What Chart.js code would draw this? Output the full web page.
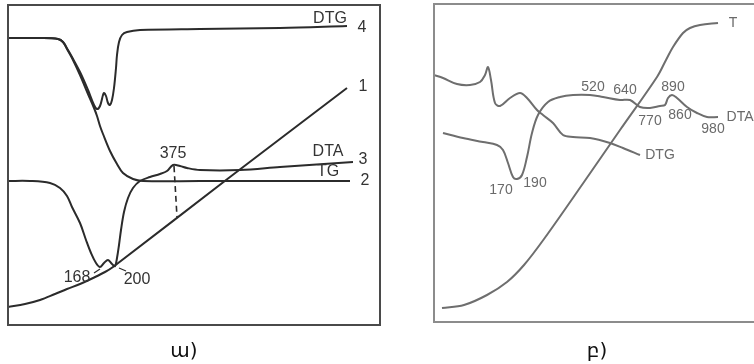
<!DOCTYPE html>
<html>
<head>
<meta charset="utf-8">
<script src="https://cdn.jsdelivr.net/npm/chart.js@4.4.1/dist/chart.umd.min.js"></script>
<style>
  html, body { margin: 0; padding: 0; background: #fff; width: 754px; height: 364px; overflow: hidden; }
  .panel { position: absolute; top: 0; }
  .caption { position: absolute; top: 339px; width: 60px; text-align: center; line-height: 22px;
             font-family: "DejaVu Sans", sans-serif; font-size: 20px; color: #111; }
</style>
</head>
<body>
<div class="panel" style="left:0px"><canvas id="chartA" width="390" height="340"></canvas></div>
<div class="panel" style="left:390px"><canvas id="chartB" width="370" height="340"></canvas></div>
<div class="caption" style="left:154px">ա)</div>
<div class="caption" style="left:567px">բ)</div>
<script>
// ---- panel ա) : relative units (x from left of frame, y up from bottom)
const dtgA = [[0,287],[32,287],[50,286],[55,283],[60,275],[64,268],[72,253],[80,235],[86,220],[89,216],
  [92,219],[95,230],[96,232],[98,229],[100,222],[102,220],[104,225],[106,237],[108,257],[109,270],
  [111,283],[114,290],[119,293],[132,295],[192,296],[272,297],[339,299]];
const tgA = [[0,287],[32,287],[50,286],[55,283],[59,276],[64,267],[72,250],[80,231],[86,217],[89,209],
  [92,199],[95,191],[102,174],[109,161],[115,152],[125,146],[135,144],[192,144],[342,144]];
const dtaA = [[0,144],[22,144],[42,142],[52,137],[59,129],[64,118],[72,102],[78,85],[83,72],[88,62],
  [92,58],[96,62],[100,65],[104,61],[107,59],[109,67],[111,80],[113,95],[116,113],[120,127],[125,137],
  [132,144],[142,148],[152,151],[159,154],[165,160],[172,159],[179,157],[192,155],[232,155],[272,158],[345,163]];
const tempA = [[0,18],[17,21],[32,25],[47,31],[59,36],[72,41],[85,47],[97,53],[105,58],[222,148],[339,237]];
const peak375 = [[166,159],[169,108]];
const tick168 = [[86,52],[92,56]];
const tick200 = [[111,57],[118,54]];
const labelsA = [
  ['DTG', 322, 306], ['4', 354, 297], ['1', 355, 238], ['375', 165, 171], ['DTA', 320, 173],
  ['3', 355, 165], ['TG', 320, 153], ['2', 357, 144], ['168', 69, 47], ['200', 129, 45]
];

// ---- panel բ)
const dtgB = [[0,247],[9,244],[23,238],[36,237],[46,240],[51,247],[54,255],[57,242],[61,219],[66,216],
  [76,224],[86,229],[93,224],[103,212],[109,207],[119,199],[129,187],[139,185],[156,184],[176,179],
  [189,174],[206,167]];
const dtaB = [[9,189],[29,184],[49,180],[63,177],[69,172],[74,159],[79,145],[83,143],[88,147],[93,165],
  [98,189],[104,207],[114,220],[126,225],[139,227],[156,227],[169,225],[186,222],[196,222],[206,215],
  [216,214],[226,216],[231,217],[234,224],[238,227],[243,224],[253,215],[263,209],[273,205],[284,205]];
const tempB = [[8,14],[30,17],[53,27],[73,40],[90,57],[110,83],[150,140],[186,192],[223,245],[232,262],
  [239,275],[249,289],[256,294],[266,297],[284,299]];
const labelsB = [
  ['T', 299, 299], ['DTA', 306, 205], ['DTG', 226, 167], ['520', 159, 235], ['640', 191, 232],
  ['890', 239, 235], ['770', 216, 201], ['860', 246, 207], ['980', 279, 193], ['170', 67, 132], ['190', 101, 139]
];

const toPts = arr => arr.map(p => ({ x: p[0], y: p[1] }));

// frame around the plot area + text marks
const framePlugin = {
  id: 'frame',
  afterDatasetsDraw(chart, args, opts) {
    const a = chart.chartArea, ctx = chart.ctx;
    ctx.save();
    ctx.strokeStyle = opts.color;
    ctx.lineWidth = opts.width;
    ctx.strokeRect(a.left, a.top, a.right - a.left, a.bottom - a.top);
    ctx.restore();
  }
};
const labelPlugin = {
  id: 'curveLabels',
  afterDraw(chart, args, opts) {
    const ctx = chart.ctx, xs = chart.scales.x, ys = chart.scales.y;
    ctx.save();
    ctx.font = opts.font;
    ctx.fillStyle = opts.color;
    ctx.textAlign = 'center';
    ctx.textBaseline = 'middle';
    opts.items.forEach(l => ctx.fillText(l[0], xs.getPixelForValue(l[1]), ys.getPixelForValue(l[2])));
    ctx.restore();
  }
};

function line(data, color, width, dash) {
  return {
    data: toPts(data), showLine: true, pointRadius: 0, borderColor: color, borderWidth: width,
    borderDash: dash || [], tension: 0.35, fill: false
  };
}

function makePanel(id, datasets, xMax, yMax, padding, frame, labels) {
  return new Chart(document.getElementById(id), {
    type: 'scatter',
    data: { datasets: datasets },
    options: {
      responsive: false,
      animation: false,
      layout: { padding: padding },
      scales: {
        x: { type: 'linear', min: 0, max: xMax, display: false },
        y: { type: 'linear', min: 0, max: yMax, display: false }
      },
      plugins: {
        legend: { display: false },
        tooltip: { enabled: false },
        frame: frame,
        curveLabels: labels
      }
    },
    plugins: [framePlugin, labelPlugin]
  });
}

const inkA = '#2b2b2b';
makePanel('chartA', [
  line(dtgA, inkA, 2), line(tgA, inkA, 2), line(dtaA, inkA, 2), line(tempA, inkA, 2),
  line(peak375, inkA, 1.6, [6, 4]), line(tick168, inkA, 1.2), line(tick200, inkA, 1.2)
], 372, 320, { left: 8, top: 5, right: 10, bottom: 15 },
  { color: '#4a4a4a', width: 2 },
  { items: labelsA, font: '16px "Liberation Sans", Arial, sans-serif', color: '#333' });

const inkB = '#6e6e6e';
makePanel('chartB', [
  line(dtgB, inkB, 2), line(dtaB, inkB, 2), line(tempB, inkB, 2)
], 326, 318, { left: 44, top: 4, right: 0, bottom: 18 },
  { color: '#8c8c8c', width: 2 },
  { items: labelsB, font: '14px "Liberation Sans", Arial, sans-serif', color: '#6a6a6a' });
</script>
</body>
</html>
